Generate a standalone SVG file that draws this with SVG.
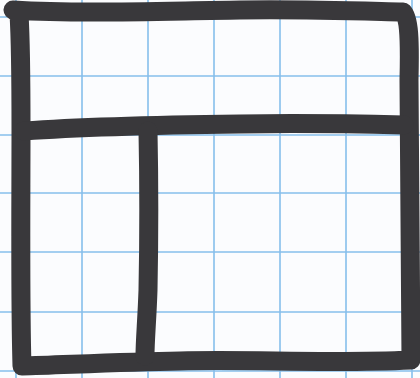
<svg xmlns="http://www.w3.org/2000/svg" width="420" height="378" viewBox="0 0 420 378">
<style>
.grid{stroke:#86bfec;stroke-width:1.6;fill:none}
.ink{stroke:#39383b;stroke-width:19;fill:none;stroke-linecap:round;stroke-linejoin:round}
</style>
<rect width="420" height="378" fill="#fbfcfe"/>
<g id="grid" class="grid">
<path d="M16 0V378M82 0V378M148 0V378M214 0V378M280 0V378M346 0V378M412 0V378"/>
<path d="M0 17H420M0 76H420M0 135H420M0 193H420M0 252H420M0 312H420M0 371H420"/>
</g>
<g id="frame" class="ink">
<path d="M13 10 C80 14 160 11 240 10 C300 9 360 11 403 12 C409 18 410 40 409 80 C409 180 410 280 411 360 C330 364 250 359 180 361 C120 362 60 365 22 366 C20 300 21 200 21 130 C21 70 20 30 19 14"/>
</g>
<g id="divider-h" class="ink">
<path d="M24 131 C80 127 160 125 240 124 C300 123 360 124 404 125"/>
</g>
<g id="divider-v" class="ink">
<path d="M148 131 C149 180 149 240 148 290 C147 320 145 340 145 356"/>
</g>
</svg>
